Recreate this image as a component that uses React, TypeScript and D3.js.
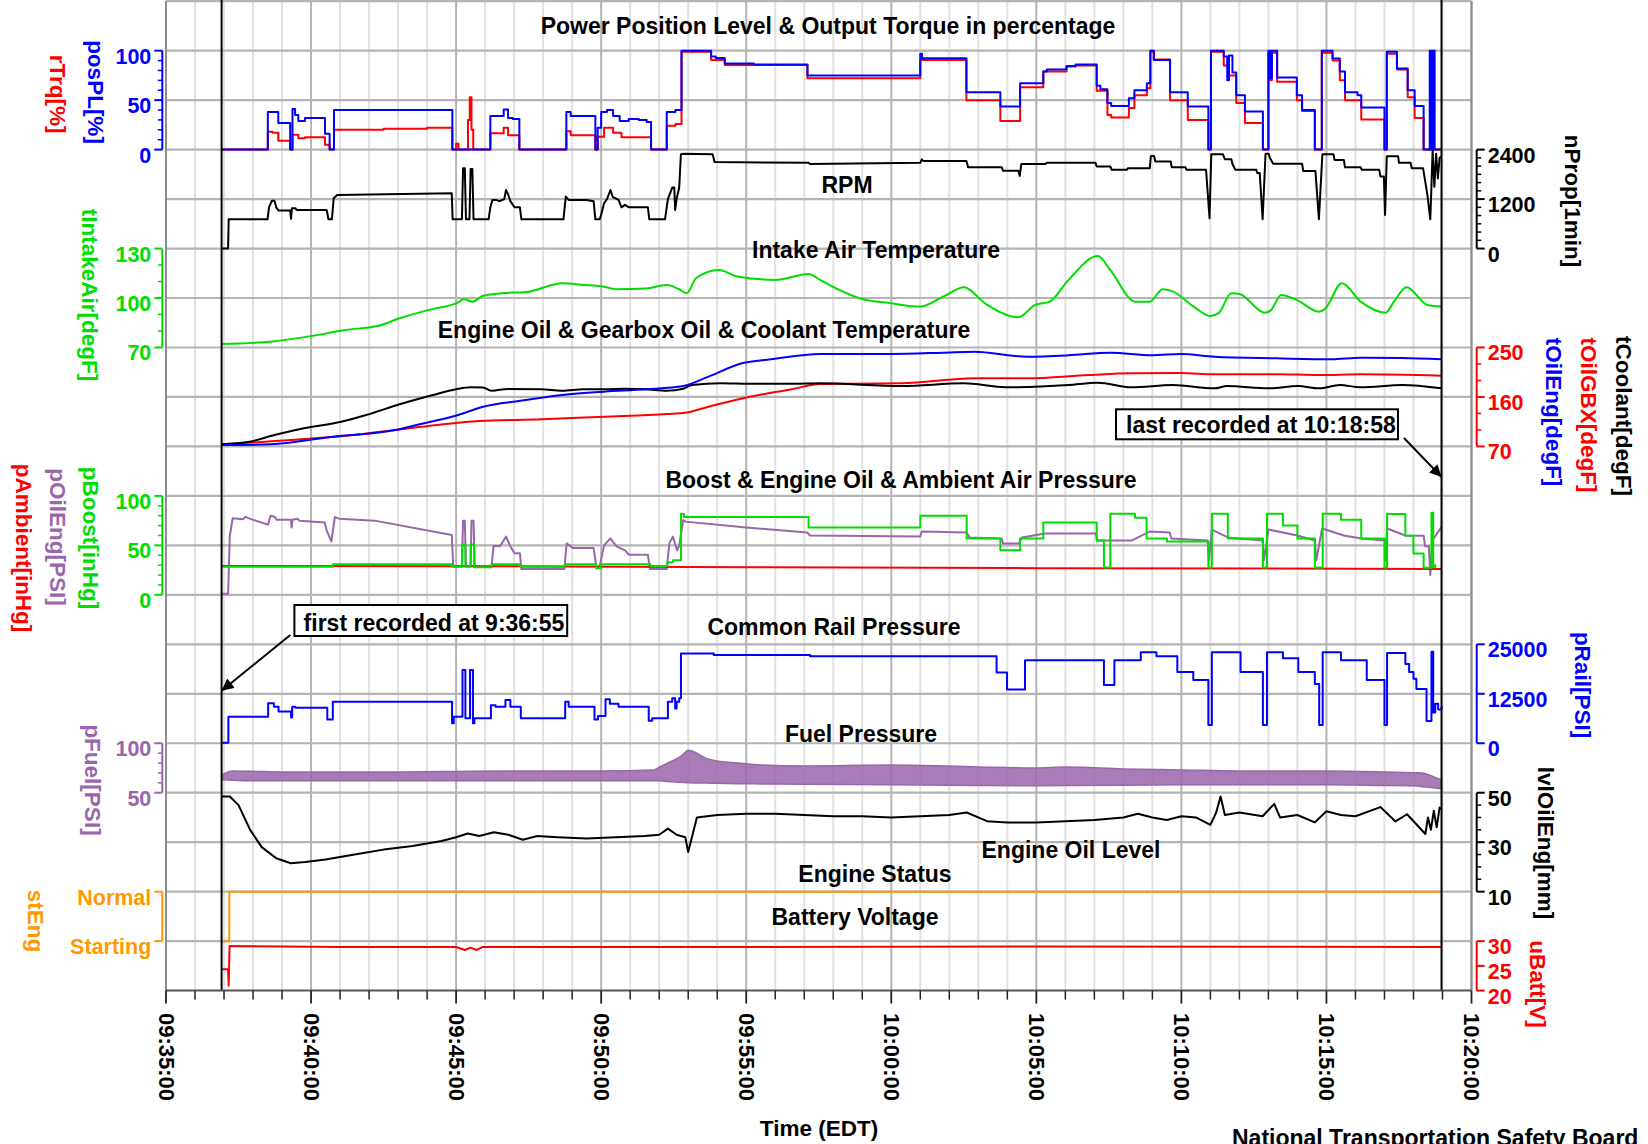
import React from "react";
import * as d3 from "d3";

type P = [number, number];

// time in minutes after 09:35:00
const T0 = Date.UTC(2000, 0, 1, 9, 35, 0);
const toDate = (m: number) => new Date(T0 + m * 60000);

// ---------------- DATA ----------------
const posPL: P[] = [[1.92,0],[3.51,38],[3.87,27],[4.28,0],[4.36,41],[4.45,35],[4.56,29],[4.79,32],[5.48,16],[5.64,0],[5.79,40],[9.87,0],[11.18,34],[11.64,40.5],[11.79,32],[11.95,31],[12.18,0],[13.8,38],[13.95,34],[14.8,0],[14.88,22],[15.0,38],[15.2,40],[15.41,34],[15.64,29],[15.95,31],[16.3,30],[16.57,28],[16.72,0],[17.26,38],[17.56,40],[17.77,100],[18.79,94],[18.95,92.5],[19.26,87],[20.26,86],[22.11,75],[26.0,97],[26.06,92.4],[27.59,58],[28.76,43.5],[29.44,67],[30.24,79],[30.36,81],[31.04,84.5],[31.35,86],[32.08,64.5],[32.21,61],[32.45,47],[32.58,44],[33.19,52],[33.38,60],[33.81,67],[33.93,100],[34.05,90.5],[34.61,58],[35.22,43.5],[35.93,0],[36.02,100],[36.46,94],[36.58,70],[36.64,95],[36.76,78],[36.89,55],[37.19,38.5],[37.81,0],[38.0,100],[38.06,72],[38.12,100],[38.3,73],[38.98,55],[39.16,40],[39.6,0],[39.84,100],[40.21,92],[40.46,79],[40.64,58],[41.07,55],[41.2,42.5],[42.0,0],[42.08,99],[42.43,82],[42.8,60],[43.04,44],[43.35,0],[43.56,100],[43.61,0],[43.64,100],[43.68,0],[43.7,100],[43.73,0],[43.97,0]];
const rTrq: P[] = [[1.92,0],[3.51,18],[3.67,17],[3.87,9],[4.28,0],[4.36,15],[4.56,11.5],[4.79,12.5],[5.48,5],[5.64,0],[5.79,20],[7.5,21],[9.0,22],[9.87,0],[10.0,6],[10.08,0],[10.41,30],[10.47,53],[10.53,20],[10.59,0],[11.18,16.5],[11.64,22],[11.79,14.5],[12.18,0],[13.8,18.6],[13.95,14.6],[14.8,0],[14.88,13],[15.1,22],[15.41,17],[15.7,12.5],[16.72,0],[17.26,24],[17.56,26],[17.77,99],[18.79,90.5],[19.26,85.5],[22.11,72],[26.0,90.5],[27.59,50],[28.76,29],[29.44,63],[30.24,79],[31.04,84],[31.35,85],[32.08,59.5],[32.45,35],[32.58,32.5],[33.19,42],[33.38,55],[33.81,62],[33.93,99],[34.05,91],[34.61,50],[35.22,30],[35.93,0],[36.02,99],[36.46,85],[36.64,75],[36.89,47],[37.19,27],[37.81,0],[38.0,98],[38.06,70],[38.12,98],[38.3,68.5],[38.98,50],[39.16,39],[39.6,0],[39.84,98],[40.21,90],[40.46,70],[40.64,50],[41.2,30.5],[42.0,0],[42.08,97],[42.43,81],[42.8,53],[43.04,32],[43.35,0],[43.97,0]];
const nProp: P[] = [[1.92,0],[2.14,0],[2.16,710],[3.5,710],[3.55,1000],[3.65,1160],[3.74,1160],[3.8,1000],[3.88,920],[4.28,920],[4.31,720],[4.34,980],[4.46,980],[4.5,935],[5.54,935],[5.6,710],[5.72,710],[5.78,1220],[5.9,1300],[9.85,1340],[9.88,710],[10.2,710],[10.24,1950],[10.3,1950],[10.34,710],[10.46,710],[10.5,1930],[10.56,1930],[10.6,710],[11.12,710],[11.18,1000],[11.25,1180],[11.36,1180],[11.5,1150],[11.66,1200],[11.72,1420],[11.8,1300],[11.87,1150],[12.01,1000],[12.2,1000],[12.25,710],[13.7,710],[13.78,1260],[13.88,1180],[14.5,1180],[14.74,1150],[14.8,710],[14.95,710],[15.0,820],[15.1,1100],[15.2,1200],[15.32,1420],[15.4,1250],[15.6,1180],[15.7,1000],[15.82,1060],[15.96,1000],[16.61,1000],[16.66,710],[17.2,710],[17.3,1200],[17.45,1480],[17.52,1480],[17.55,935],[17.6,1200],[17.69,1480],[17.75,2290],[17.83,2300],[18.84,2290],[18.91,2100],[22.15,2080],[22.2,2050],[26.0,2080],[26.05,2165],[26.1,2125],[27.59,2125],[27.65,1970],[28.81,1970],[28.85,1890],[29.38,1890],[29.43,1760],[29.48,2050],[30.32,2050],[30.35,2080],[32.04,2080],[32.08,1990],[32.55,1990],[32.6,1910],[33.12,1910],[33.16,1950],[33.91,1950],[33.95,2245],[34.06,2245],[34.1,2110],[34.63,2110],[34.67,1970],[35.14,1970],[35.18,1910],[35.85,1910],[35.97,735],[36.03,2290],[36.43,2290],[36.5,2165],[36.72,2165],[36.76,2050],[36.86,1910],[37.58,1910],[37.62,1830],[37.7,1830],[37.8,710],[37.9,2300],[38.01,2300],[38.05,2200],[38.16,2060],[39.16,2060],[39.2,1880],[39.62,1880],[39.74,710],[39.86,2290],[40.24,2290],[40.28,2150],[40.6,2150],[40.64,1970],[41.18,1970],[41.22,1910],[41.82,1910],[41.86,1750],[41.98,1750],[42.02,815],[42.08,2240],[42.47,2240],[42.5,2080],[42.9,2080],[42.94,1950],[43.33,1950],[43.48,1300],[43.58,710],[43.66,2370],[43.72,1500],[43.78,2300],[43.84,1700],[43.9,2200],[43.97,2240]];
const tIntakeAir: P[] = [[1.91,72.1],[3.6,73.5],[5.03,77],[6.18,80.6],[7.33,83.2],[8.05,87.7],[9.2,93.4],[10.0,96.8],[10.28,99.2],[10.57,97.8],[10.93,101.4],[11.94,103.3],[12.37,103.5],[13.66,109],[14.38,108],[15.1,106.9],[15.53,105.3],[16.54,105.8],[17.26,107.9],[17.69,105.3],[17.95,102.9],[18.27,112],[19.06,117],[19.7,113],[21.0,111],[22.15,114.6],[22.55,111],[23.2,104.9],[23.92,99.8],[25.0,96.8],[26.0,94.8],[26.79,100.8],[27.51,106.5],[28.23,96.8],[29.38,88.3],[29.96,95.8],[30.46,97.8],[31.11,111],[32.12,125.5],[32.55,117],[33.41,97.8],[33.91,97.8],[34.35,105.3],[34.7,104],[35.42,94.8],[36.0,89.1],[36.29,91],[36.72,102.9],[37.0,102.5],[37.87,91.1],[38.08,92.5],[38.44,101.9],[39.02,98.4],[39.74,91.7],[39.95,93.4],[40.53,109],[41.18,97.8],[42.04,91.1],[42.33,97.8],[42.76,106.5],[43.48,95.8],[43.97,94.8]];
const tCoolant: P[] = [[1.91,73.8],[2.88,78.6],[3.74,90.7],[4.75,103],[6.04,115],[6.9,127.2],[8.05,146.6],[9.2,163.6],[10.0,174],[10.5,177.6],[10.93,177.4],[11.22,171.4],[11.79,174.5],[12.94,173.9],[13.66,171.4],[14.38,173.9],[15.1,173.9],[15.82,175.1],[16.54,173.9],[17.26,171.4],[17.83,175.1],[18.13,181.8],[19.13,184.8],[20.13,184],[21.57,184],[22.55,184.8],[25.36,179.9],[27.51,184.8],[28.95,177.6],[31.11,181.8],[32.12,186],[33.27,177.6],[34.7,181.8],[36.14,175.7],[36.57,179.9],[38.01,175.7],[39.02,179.9],[39.74,175.7],[40.46,181.8],[41.18,177.6],[42.62,181.8],[43.97,175.7]];
const tOilEng: P[] = [[1.91,72.5],[3.6,73.8],[5.75,87.7],[7.91,99.9],[8.63,108.9],[10.07,127.2],[10.93,142.3],[12.22,153.2],[13.66,163.6],[15.1,169.6],[16.54,173.9],[17.83,179.9],[18.7,196.9],[19.85,221.2],[20.85,228.5],[22.55,238.2],[24.99,238.2],[26.79,240.6],[27.87,242.4],[29.67,233.3],[31.11,235.8],[32.55,240.6],[33.99,236],[34.99,238.2],[36.14,233.3],[38.3,230.3],[40.17,228.5],[41.18,231.5],[42.62,230.9],[43.97,228.5]];
const tOilGBX: P[] = [[1.91,73.8],[4.31,81.6],[6.47,90.7],[7.91,99.9],[9.35,108.9],[10.79,116.2],[12.94,119.3],[15.1,124.1],[17.26,129],[17.91,131.4],[18.7,142.3],[20.13,160.5],[21.57,173.9],[22.55,183.6],[25.36,184.8],[27.87,193.9],[29.67,193.9],[31.83,199.9],[33.27,203],[34.99,203.6],[36.14,201.2],[38.3,201.5],[39.74,199.9],[41.18,201.2],[43.97,198.7]];
const pOilEng: P[] = [[1.91,1],[2.14,1],[2.2,60],[2.3,77.4],[2.66,76.5],[2.73,79],[2.88,77],[3.52,71],[3.6,80],[3.74,79],[3.81,76],[4.31,76],[4.33,68],[4.36,76],[4.53,77],[4.6,75],[5.47,73],[5.54,65],[5.7,54],[5.82,78.6],[5.97,77],[7.19,75],[9.85,60.5],[9.9,29],[10.2,29],[10.24,75],[10.3,75],[10.34,29],[10.5,29],[10.53,75],[10.6,75],[10.64,29],[11.22,28],[11.29,49.6],[11.51,49],[11.72,58.8],[11.87,49],[12.01,42],[12.2,42],[12.25,26],[13.73,26],[13.81,52],[14.02,47.4],[14.74,47.4],[14.84,27],[14.95,29],[15.1,50],[15.32,57],[15.53,49],[15.82,45],[15.96,40.5],[16.61,40.5],[16.68,26],[17.26,26],[17.35,52],[17.47,58.8],[17.62,45],[17.69,50],[17.83,75.7],[17.9,74],[20,68],[22.1,63],[22.2,60],[26,59],[26.05,64],[27.6,63],[27.7,58],[28.8,57],[28.85,52],[29.4,52],[29.5,58],[30.3,62],[32.05,62],[32.1,55],[33.3,55],[33.9,64],[34.6,63],[34.65,57],[35.9,55],[35.95,35],[36.05,66],[36.6,58],[37.8,55],[37.85,35],[38.0,66],[39.0,60],[39.6,55],[39.65,35],[39.85,67],[40.6,60],[41.2,57],[42.0,55],[42.04,35],[42.09,67],[42.72,60],[43.35,59.8],[43.4,49],[43.53,49],[43.58,20],[43.65,55],[43.97,68.8]];
const pBoost: P[] = [[1.91,28.5],[5.75,31],[9.85,28.5],[10.21,51],[10.32,28.5],[10.5,51],[10.62,28],[11.22,31],[12.23,28.5],[13.75,31],[14.83,27],[14.98,31],[16.7,29.2],[17.28,33],[17.48,35],[17.75,81.7],[17.85,78.6],[22.15,68],[26.0,80],[27.6,57],[28.76,45],[29.44,57],[30.24,73],[32.08,55],[32.33,27.7],[32.55,82],[33.4,78],[33.8,57],[34.5,54],[35.93,27.7],[36.05,82],[36.6,57],[37.81,27.7],[37.95,82],[38.5,70],[39.0,57],[39.6,27.7],[39.87,82],[40.5,76],[41.2,57],[42.0,27.7],[42.09,81.7],[42.72,59.8],[43.0,41.7],[43.35,27.3],[43.62,83],[43.68,28],[43.75,31]];
const pAmbient: P[] = [[1.91,29.2],[10,29],[20,28],[30,27],[43.97,26.2]];
const pRail: P[] = [[1.91,150],[2.15,6720],[3.52,10100],[3.72,9240],[3.88,8000],[4.31,6500],[4.35,9240],[4.46,9000],[5.56,6000],[5.75,10500],[9.86,5050],[9.92,6720],[10.22,18500],[10.32,6300],[10.48,18500],[10.58,5050],[10.63,6300],[11.2,9600],[11.36,9240],[11.7,10900],[11.87,9240],[12.23,6300],[13.76,10500],[13.88,9240],[14.77,6000],[14.89,6900],[15.15,11100],[15.3,10000],[15.6,9240],[16.64,5700],[16.76,6300],[17.3,10500],[17.45,11400],[17.55,8800],[17.6,10500],[17.69,11400],[17.75,22700],[18.88,22300],[22.2,22000],[28.63,17850],[28.99,13600],[29.61,21000],[32.33,14700],[32.69,21000],[33.6,23000],[34.14,22000],[34.86,18000],[35.41,16000],[35.93,4600],[36.05,23000],[37.04,18000],[37.81,4600],[37.95,23000],[38.5,21500],[39.03,18000],[39.6,15000],[39.75,4600],[39.87,23000],[40.5,21000],[41.39,16000],[42.0,4600],[42.09,22800],[42.72,20000],[42.85,18000],[43.0,16300],[43.1,13700],[43.45,5600],[43.62,23100],[43.68,7800],[43.75,10000],[43.85,8500],[43.97,9200]];
const pFuelHi: P[] = [[1.92,68],[2.3,72],[4,71],[8,71],[12,72],[15,72],[16.8,73],[17.3,80],[17.8,88],[18.0,93],[18.3,90],[18.6,85],[19.0,82],[19.7,80],[20.5,78],[22,77],[25,78],[28,76],[30,75],[31,76],[33,74],[35,73],[37,72],[40,72],[42,71],[43.3,70],[43.7,66],[43.97,63]];
const pFuelLo: P[] = [[1.92,63],[3,62],[10,62],[17,62],[18,60],[20,59],[25,58],[30,57],[35,58],[40,58],[43,57],[43.7,55],[43.97,54]];
const lvlOilEng: P[] = [[1.92,48.5],[2.2,48.5],[2.5,45],[2.9,35],[3.3,28],[3.8,23.5],[4.3,21.5],[4.8,22],[5.5,23],[6.5,25],[7.5,27],[8.5,28.5],[9.5,30.5],[10.0,32],[10.4,33.5],[10.8,32.5],[11.3,34],[11.8,33],[12.3,31],[12.8,32.5],[13.5,32],[14.5,31.5],[15.5,32],[16.5,32.5],[17.0,33],[17.3,35.5],[17.6,33],[17.9,32],[18.0,26],[18.15,33],[18.3,40],[19,41],[20,41.5],[21,41.5],[22,41],[23,40.5],[24,40.5],[25,40],[26,40.5],[27,41],[27.6,42],[28.3,38.5],[29,38],[30,38],[31,38.5],[32,39],[33,40],[33.5,41.5],[34,40],[34.5,39],[35,40.5],[35.5,40],[36.0,37],[36.2,42],[36.35,48.5],[36.5,41],[37,42],[37.8,40.5],[38.2,45.5],[38.4,40],[39,41],[39.6,38],[40,42.5],[40.5,41],[41,40.5],[41.86,44.2],[42.38,38.4],[42.78,41.3],[43.41,33.3],[43.5,40],[43.6,35],[43.7,42.7],[43.8,36],[43.9,44],[43.97,43.4]];
const stEng: [number, string][] = [[1.92,"Starting"],[2.18,"Normal"],[43.97,"Normal"]];
const uBatt: P[] = [[1.92,24.3],[2.14,24.3],[2.16,21.0],[2.19,29.0],[6,28.8],[10.0,28.8],[10.3,28.2],[10.5,28.7],[10.7,28.2],[10.9,28.8],[20,28.8],[30,28.9],[43.97,28.8]];

const firstRec = 1 + 55 / 60;      // 09:36:55
const lastRec = 43 + 58 / 60;      // 10:18:58

// ---------------- LAYOUT ----------------
const ROW0 = 1.2, ROWH = 49.47;
const rowY = (k: number) => ROW0 + k * ROWH;
const X0 = 166, X1 = 1471.5;
const LAX = 162.3, RAX = 1476.7;
const FONT = "'Liberation Sans', Arial, Helvetica, sans-serif";
const BLUE = "#0000ff", RED = "#ff0000", GREEN = "#00dd00", PURPLE = "#9966aa", ORANGE = "#ff9900", BLACK = "#000000";

type Scale = (v: any) => number;

function YAxis(props: { side: "l" | "r"; scale: Scale; ticks: any[]; minor?: number[]; color: string }) {
  const { side, scale, ticks, minor = [], color } = props;
  const ax = side === "l" ? LAX : RAX;
  const s = side === "l" ? -1 : 1;
  const ys = ticks.map((t) => scale(t));
  const y0 = Math.min(...ys), y1 = Math.max(...ys);
  return (
    <g>
      <line x1={ax} x2={ax} y1={y0} y2={y1} stroke={color} strokeWidth={2} />
      {ticks.map((t, i) => (
        <g key={"M" + i}>
          <line x1={ax} x2={ax + s * 8} y1={scale(t)} y2={scale(t)} stroke={color} strokeWidth={2} />
          <text x={ax + s * 11} y={scale(t) + 6} fill={color} fontSize={21.5} fontWeight="bold" fontFamily={FONT}
            textAnchor={side === "l" ? "end" : "start"} dominantBaseline="central">{String(t)}</text>
        </g>
      ))}
      {minor.map((t, i) => (
        <line key={"m" + i} x1={ax} x2={ax + s * 4.5} y1={scale(t)} y2={scale(t)} stroke={color} strokeWidth={1.5} />
      ))}
    </g>
  );
}

function VLabel(props: { x: number; y: number; color: string; text: string }) {
  return (
    <text transform={`translate(${props.x},${props.y}) rotate(90)`} fill={props.color} fontSize={22.5} fontWeight="bold"
      fontFamily={FONT} textAnchor="middle" dominantBaseline="central">{props.text}</text>
  );
}

function Title(props: { x: number; y: number; text: string }) {
  return (
    <text x={props.x} y={props.y} fontSize={23} fontWeight="bold" fontFamily={FONT} textAnchor="middle" fill="#000">{props.text}</text>
  );
}

const rangeStep = (a: number, b: number, st: number, skip: number[]) =>
  d3.range(a, b + st / 2, st).filter((v) => !skip.some((s) => Math.abs(s - v) < 1e-6));

export default function App() {
  const W = 1648, H = 1144;
  const x = d3.scaleUtc().domain([toDate(0), toDate(45)]).range([X0, X1]);
  const xm = (m: number) => x(toDate(m));

  const yPos = d3.scaleLinear().domain([0, 100]).range([rowY(3), rowY(1)]);
  const yRpm = d3.scaleLinear().domain([0, 2400]).range([rowY(5), rowY(3)]);
  const yAir = d3.scaleLinear().domain([70, 130]).range([rowY(7), rowY(5)]);
  const yOil = d3.scaleLinear().domain([70, 250]).range([rowY(9), rowY(7)]);
  const yBoost = d3.scaleLinear().domain([0, 100]).range([rowY(12), rowY(10)]);
  const yRail = d3.scaleLinear().domain([0, 25000]).range([rowY(15), rowY(13)]);
  const yFuel = d3.scaleLinear().domain([50, 100]).range([rowY(16), rowY(15)]);
  const yLvl = d3.scaleLinear().domain([10, 50]).range([rowY(18), rowY(16)]);
  const yEng = d3.scalePoint<string>().domain(["Starting", "Normal"]).range([rowY(19), rowY(18)]).padding(0);
  const yBatt = d3.scaleLinear().domain([20, 30]).range([rowY(20), rowY(19)]);

  const mk = (y: (v: number) => number, curve: d3.CurveFactory = d3.curveLinear) =>
    d3.line<P>().x((d) => xm(d[0])).y((d) => y(d[1])).curve(curve);

  const step = d3.curveStepAfter;
  const smooth = d3.curveMonotoneX;
  const fuelArea = (() => {
    const ts = Array.from(new Set([...pFuelHi.map((d) => d[0]), ...pFuelLo.map((d) => d[0])])).sort((a, b) => a - b);
    const hi = d3.scaleLinear().domain(pFuelHi.map((d) => d[0])).range(pFuelHi.map((d) => d[1]));
    const lo = d3.scaleLinear().domain(pFuelLo.map((d) => d[0])).range(pFuelLo.map((d) => d[1]));
    return d3.area<number>().x((t) => xm(t)).y0((t) => yFuel(lo(t))).y1((t) => yFuel(hi(t))).curve(smooth)(ts) || "";
  })();
  const engLine = d3.line<[number, string]>().x((d) => xm(d[0])).y((d) => yEng(d[1]) as number).curve(d3.curveStepAfter)(stEng) || "";

  const minorMin = d3.range(0, 46, 1).filter((m) => m % 5 !== 0);
  const majorMin = d3.range(0, 46, 5);
  const fmt = d3.utcFormat("%H:%M:%S");

  const series: { d: string; c: string; w?: number }[] = [
    { d: mk(yPos, step)(rTrq) || "", c: RED },
    { d: mk(yPos, step)(posPL) || "", c: BLUE },
    { d: mk(yRpm)(nProp) || "", c: BLACK },
    { d: mk(yAir, smooth)(tIntakeAir) || "", c: GREEN },
    { d: mk(yOil, smooth)(tOilGBX) || "", c: RED },
    { d: mk(yOil, smooth)(tCoolant) || "", c: BLACK },
    { d: mk(yOil, smooth)(tOilEng) || "", c: BLUE },
    { d: mk(yBoost)(pOilEng) || "", c: PURPLE },
    { d: mk(yBoost)(pAmbient) || "", c: RED },
    { d: mk(yBoost, step)(pBoost) || "", c: GREEN },
    { d: mk(yRail, step)(pRail) || "", c: BLUE },
    { d: mk(yLvl)(lvlOilEng) || "", c: BLACK },
    { d: engLine, c: ORANGE },
    { d: mk(yBatt)(uBatt) || "", c: RED },
  ];

  return (
    <svg width={W} height={H} style={{ position: "absolute", left: 0, top: 0, background: "#fff" }} fontFamily={FONT}>
      <rect x={0} y={0} width={W} height={H} fill="#fff" />
      {/* grid */}
      {minorMin.map((m) => (
        <line key={"gm" + m} x1={xm(m)} x2={xm(m)} y1={ROW0} y2={rowY(20)} stroke="#e2e2e2" strokeWidth={2} />
      ))}
      {majorMin.map((m) => (
        <line key={"gM" + m} x1={xm(m)} x2={xm(m)} y1={ROW0} y2={rowY(20)} stroke="#b4b4b4" strokeWidth={2} />
      ))}
      {d3.range(0, 20).map((k) => (
        <line key={"gh" + k} x1={X0} x2={X1} y1={rowY(k)} y2={rowY(k)} stroke="#b4b4b4" strokeWidth={2.2} />
      ))}
      <line x1={X0} x2={X0} y1={ROW0} y2={rowY(20)} stroke="#8c8c8c" strokeWidth={2} />
      <line x1={X1} x2={X1} y1={ROW0} y2={rowY(20)} stroke="#8c8c8c" strokeWidth={2} />

      {/* fuel band */}
      <path d={fuelArea} fill={PURPLE} fillOpacity={0.85} stroke={PURPLE} strokeWidth={1.5} />
      {series.map((s, i) => (
        <path key={"s" + i} d={s.d} fill="none" stroke={s.c} strokeWidth={s.w || 2} strokeLinejoin="round" />
      ))}

      {/* record limits */}
      <line x1={xm(firstRec)} x2={xm(firstRec)} y1={0} y2={rowY(20)} stroke="#000" strokeWidth={2} />
      <line x1={xm(lastRec)} x2={xm(lastRec)} y1={0} y2={rowY(20)} stroke="#000" strokeWidth={2} />

      {/* x axis */}
      <line x1={X0} x2={X1} y1={rowY(20)} y2={rowY(20)} stroke="#555" strokeWidth={2} />
      {minorMin.map((m) => (
        <line key={"xm" + m} x1={xm(m)} x2={xm(m)} y1={rowY(20)} y2={rowY(20) + 9} stroke="#222" strokeWidth={1.5} />
      ))}
      {majorMin.map((m) => (
        <g key={"xM" + m}>
          <line x1={xm(m)} x2={xm(m)} y1={rowY(20)} y2={rowY(20) + 13} stroke="#222" strokeWidth={1.8} />
          <text transform={`translate(${xm(m)},${1013}) rotate(90)`} fontSize={22} fontWeight="bold" textAnchor="start"
            dominantBaseline="central" fill="#000">{fmt(toDate(m))}</text>
        </g>
      ))}
      <text x={819} y={1136} fontSize={22.5} fontWeight="bold" textAnchor="middle" fill="#000">Time (EDT)</text>
      <text x={1232} y={1146} fontSize={23} fontWeight="bold" textAnchor="start" fill="#000">National Transportation Safety Board</text>

      {/* y axes */}
      <YAxis side="l" scale={yPos} ticks={[0, 50, 100]} minor={rangeStep(0, 100, 10, [0, 50, 100])} color={BLUE} />
      <YAxis side="r" scale={yRpm} ticks={[0, 1200, 2400]} minor={rangeStep(0, 2400, 200, [0, 1200, 2400])} color={BLACK} />
      <YAxis side="l" scale={yAir} ticks={[70, 100, 130]} minor={rangeStep(70, 130, 10, [70, 100, 130])} color={GREEN} />
      <YAxis side="r" scale={yOil} ticks={[70, 160, 250]} minor={rangeStep(70, 250, 30, [70, 160, 250])} color={RED} />
      <YAxis side="l" scale={yBoost} ticks={[0, 50, 100]} minor={rangeStep(0, 100, 10, [0, 50, 100])} color={GREEN} />
      <YAxis side="r" scale={yRail} ticks={[0, 12500, 25000]} color={BLUE} />
      <YAxis side="l" scale={yFuel} ticks={[50, 100]} minor={rangeStep(50, 100, 10, [50, 100])} color={PURPLE} />
      <YAxis side="r" scale={yLvl} ticks={[10, 30, 50]} minor={rangeStep(10, 50, 5, [10, 30, 50])} color={BLACK} />
      <YAxis side="l" scale={yEng as any} ticks={["Starting", "Normal"]} color={ORANGE} />
      <YAxis side="r" scale={yBatt} ticks={[20, 25, 30]} color={RED} />

      {/* axis labels */}
      <VLabel x={95} y={92} color={BLUE} text="posPL[%]" />
      <VLabel x={57} y={94} color={RED} text="rTrq[%]" />
      <VLabel x={89} y={295} color={GREEN} text="tIntakeAir[degF]" />
      <VLabel x={90} y={538} color={GREEN} text="pBoost[inHg]" />
      <VLabel x={57} y={537} color={PURPLE} text="pOilEng[PSI]" />
      <VLabel x={23} y={548} color={RED} text="pAmbient[inHg]" />
      <VLabel x={92} y={780} color={PURPLE} text="pFuel[PSI]" />
      <VLabel x={35} y={921} color={ORANGE} text="stEng" />
      <VLabel x={1572} y={201} color={BLACK} text="nProp[1min]" />
      <VLabel x={1553} y={412} color={BLUE} text="tOilEng[degF]" />
      <VLabel x={1588} y={415} color={RED} text="tOilGBX[degF]" />
      <VLabel x={1623} y={416} color={BLACK} text="tCoolant[degF]" />
      <VLabel x={1582} y={685} color={BLUE} text="pRail[PSI]" />
      <VLabel x={1545} y={843} color={BLACK} text="lvlOilEng[mm]" />
      <VLabel x={1537} y={984} color={RED} text="uBatt[V]" />

      {/* titles */}
      <Title x={828} y={34} text="Power Position Level & Output Torque in percentage" />
      <Title x={847} y={193} text="RPM" />
      <Title x={876} y={258} text="Intake Air Temperature" />
      <Title x={704} y={338} text="Engine Oil & Gearbox Oil & Coolant Temperature" />
      <Title x={901} y={488} text="Boost & Engine Oil & Ambient Air Pressure" />
      <Title x={834} y={635} text="Common Rail Pressure" />
      <Title x={861} y={742} text="Fuel Pressure" />
      <Title x={1071} y={858} text="Engine Oil Level" />
      <Title x={875} y={882} text="Engine Status" />
      <Title x={855} y={925} text="Battery Voltage" />

      {/* annotations */}
      <defs>
        <marker id="ah" viewBox="0 0 10 10" refX="10" refY="5" markerWidth="6" markerHeight="6" orient="auto" markerUnits="strokeWidth">
          <path d="M0,0 L10,5 L0,10 z" fill="#000" />
        </marker>
      </defs>
      <rect x={1116} y={409.3} width={282} height={30} fill="#fff" stroke="#000" strokeWidth={2} />
      <text x={1126} y={433.3} fontSize={23} fontWeight="bold" fill="#000">last recorded at 10:18:58</text>
      <line x1={1404} y1={438} x2={xm(lastRec)} y2={477} stroke="#000" strokeWidth={2} markerEnd="url(#ah)" />
      <rect x={294.4} y={605} width={272.8} height={31} fill="#fff" stroke="#000" strokeWidth={2} />
      <text x={303.6} y={630.7} fontSize={23} fontWeight="bold" fill="#000">first recorded at 9:36:55</text>
      <line x1={290.3} y1={635} x2={xm(firstRec)} y2={690.7} stroke="#000" strokeWidth={2} markerEnd="url(#ah)" />
    </svg>
  );
}
